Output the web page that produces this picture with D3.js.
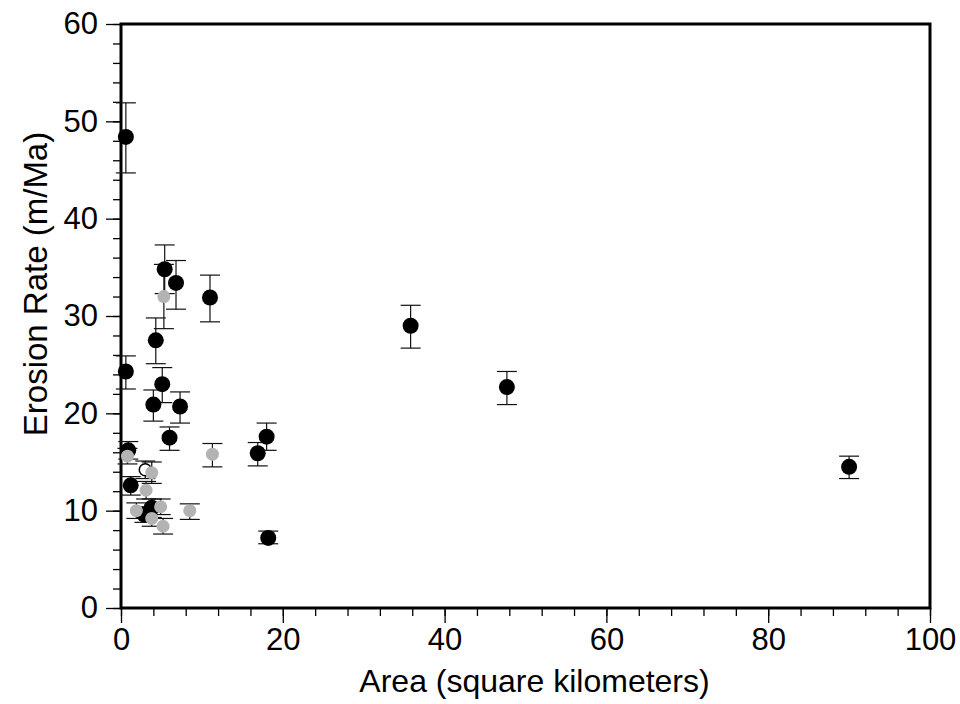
<!DOCTYPE html>
<html>
<head>
<meta charset="utf-8">
<script src="https://cdn.jsdelivr.net/npm/d3@7"></script>
<style>
  body { margin: 0; background: #fff; }
  text { font-family: "Liberation Sans", Arial, Helvetica, sans-serif; fill: #000; }
</style>
</head>
<body>
<div id="chart"></div>
<script>
const width = 960;
const height = 704;
const margin = { top: 24, right: 30, bottom: 96, left: 121 };

// black (main) samples
const blackArea  = [0.6, 0.6, 0.9, 1.2, 5.4, 6.8, 11.0, 4.3, 5.1, 4.0, 7.3, 6.0, 16.9, 18.0, 18.2, 35.8, 47.7, 90.0, 2.9, 3.8];
const blackRate  = [48.4, 24.3, 16.2, 12.6, 34.8, 33.4, 31.9, 27.5, 23.0, 20.9, 20.7, 17.5, 15.9, 17.6, 7.2, 29.0, 22.7, 14.5, 9.6, 10.3];
const blackHigh  = [51.9, 25.9, 17.1, 13.5, 37.3, 35.7, 34.2, 29.8, 24.7, 22.4, 22.2, 18.6, 17.0, 19.0, 7.9, 31.1, 24.3, 15.6, 10.4, 11.2];
const blackLow   = [44.7, 22.5, 15.3, 11.6, 32.3, 30.7, 29.4, 25.1, 21.1, 19.2, 19.0, 16.2, 14.6, 16.2, 6.6, 26.7, 20.9, 13.3, 8.8, 9.3];

// grey samples
const greyArea = [0.8, 5.3, 3.8, 3.1, 1.9, 3.8, 4.9, 5.2, 8.5, 11.3];
const greyRate = [15.6, 32.0, 13.9, 12.1, 10.0, 9.2, 10.4, 8.4, 10.0, 15.8];
const greyHigh = [16.4, 35.3, 15.0, 13.0, 10.8, 10.0, 11.2, 9.2, 10.7, 16.9];
const greyLow  = [14.8, 28.7, 12.8, 11.2, 9.2, 8.4, 9.6, 7.6, 9.1, 14.5];

// open circle sample
const openArea = [3.0];
const openRate = [14.2];
const openHigh = [15.1];
const openLow  = [13.3];

const xTicks = [0, 20, 40, 60, 80, 100];
const yTicks = [0, 10, 20, 30, 40, 50, 60];

const svg = d3.select("#chart")
    .append("svg")
    .attr("width", width)
    .attr("height", height);

const x = d3.scaleLinear().domain([0, 100]).range([margin.left, width - margin.right]);
const y = d3.scaleLinear().domain([0, 60]).range([height - margin.bottom, margin.top]);

//axes
const xAxis = svg.append("g")
    .attr("transform", `translate(0,${y(0)})`)
    .call(d3.axisBottom(x).tickValues(d3.range(0, 101, 4)).tickSize(8).tickFormat(""));
xAxis.append("g")
    .call(d3.axisBottom(x).tickValues(xTicks).tickSize(15).tickPadding(5).tickFormat(d3.format("d")));

const yAxis = svg.append("g")
    .attr("transform", `translate(${x(0)},0)`)
    .call(d3.axisLeft(y).tickValues(d3.range(0, 61, 2)).tickSize(8).tickFormat(""));
yAxis.append("g")
    .call(d3.axisLeft(y).tickValues(yTicks).tickSize(15).tickPadding(8).tickFormat(d3.format("d")));

svg.selectAll(".domain").remove();
svg.selectAll(".tick line").attr("stroke", "#000").attr("stroke-width", 1.3);
svg.selectAll(".tick text")
    .attr("font-size", 31)
    .attr("font-family", "Liberation Sans, Arial, sans-serif")
    .attr("fill", "#000");

//frame
svg.append("rect")
    .attr("x", x(0))
    .attr("y", y(60))
    .attr("width", x(100) - x(0))
    .attr("height", y(0) - y(60))
    .attr("fill", "none")
    .attr("stroke", "#000")
    .attr("stroke-width", 3);

//titles
svg.append("text")
    .attr("x", (x(0) + x(100)) / 2 + 9)
    .attr("y", 692)
    .attr("text-anchor", "middle")
    .attr("font-size", 32)
    .text("Area (square kilometers)");

svg.append("text")
    .attr("transform", "translate(47,284) rotate(-90)")
    .attr("text-anchor", "middle")
    .attr("font-size", 33)
    .text("Erosion Rate (m/Ma)");

//error bars
function errorBars(area, high, low) {
    const g = svg.append("g")
        .attr("stroke", "#111")
        .attr("stroke-width", 1.2);
    area.forEach((a, i) => {
        const cx = x(a);
        g.append("line").attr("x1", cx).attr("x2", cx).attr("y1", y(high[i])).attr("y2", y(low[i]));
        g.append("line").attr("x1", cx - 10).attr("x2", cx + 10).attr("y1", y(high[i])).attr("y2", y(high[i]));
        g.append("line").attr("x1", cx - 10).attr("x2", cx + 10).attr("y1", y(low[i])).attr("y2", y(low[i]));
    });
}

errorBars(blackArea, blackHigh, blackLow);
errorBars(greyArea, greyHigh, greyLow);
errorBars(openArea, openHigh, openLow);

//points
svg.append("g")
    .selectAll("circle")
    .data(blackArea)
    .enter()
    .append("circle")
    .attr("cx", d => x(d))
    .attr("cy", (d, i) => y(blackRate[i]))
    .attr("r", 8)
    .attr("fill", "#000");

svg.append("g")
    .selectAll("circle")
    .data(openArea)
    .enter()
    .append("circle")
    .attr("cx", d => x(d))
    .attr("cy", (d, i) => y(openRate[i]))
    .attr("r", 6)
    .attr("fill", "#fff")
    .attr("stroke", "#000")
    .attr("stroke-width", 1.5);

svg.append("g")
    .selectAll("circle")
    .data(greyArea)
    .enter()
    .append("circle")
    .attr("cx", d => x(d))
    .attr("cy", (d, i) => y(greyRate[i]))
    .attr("r", 6.5)
    .attr("fill", "#b3b3b3");
</script>
</body>
</html>
